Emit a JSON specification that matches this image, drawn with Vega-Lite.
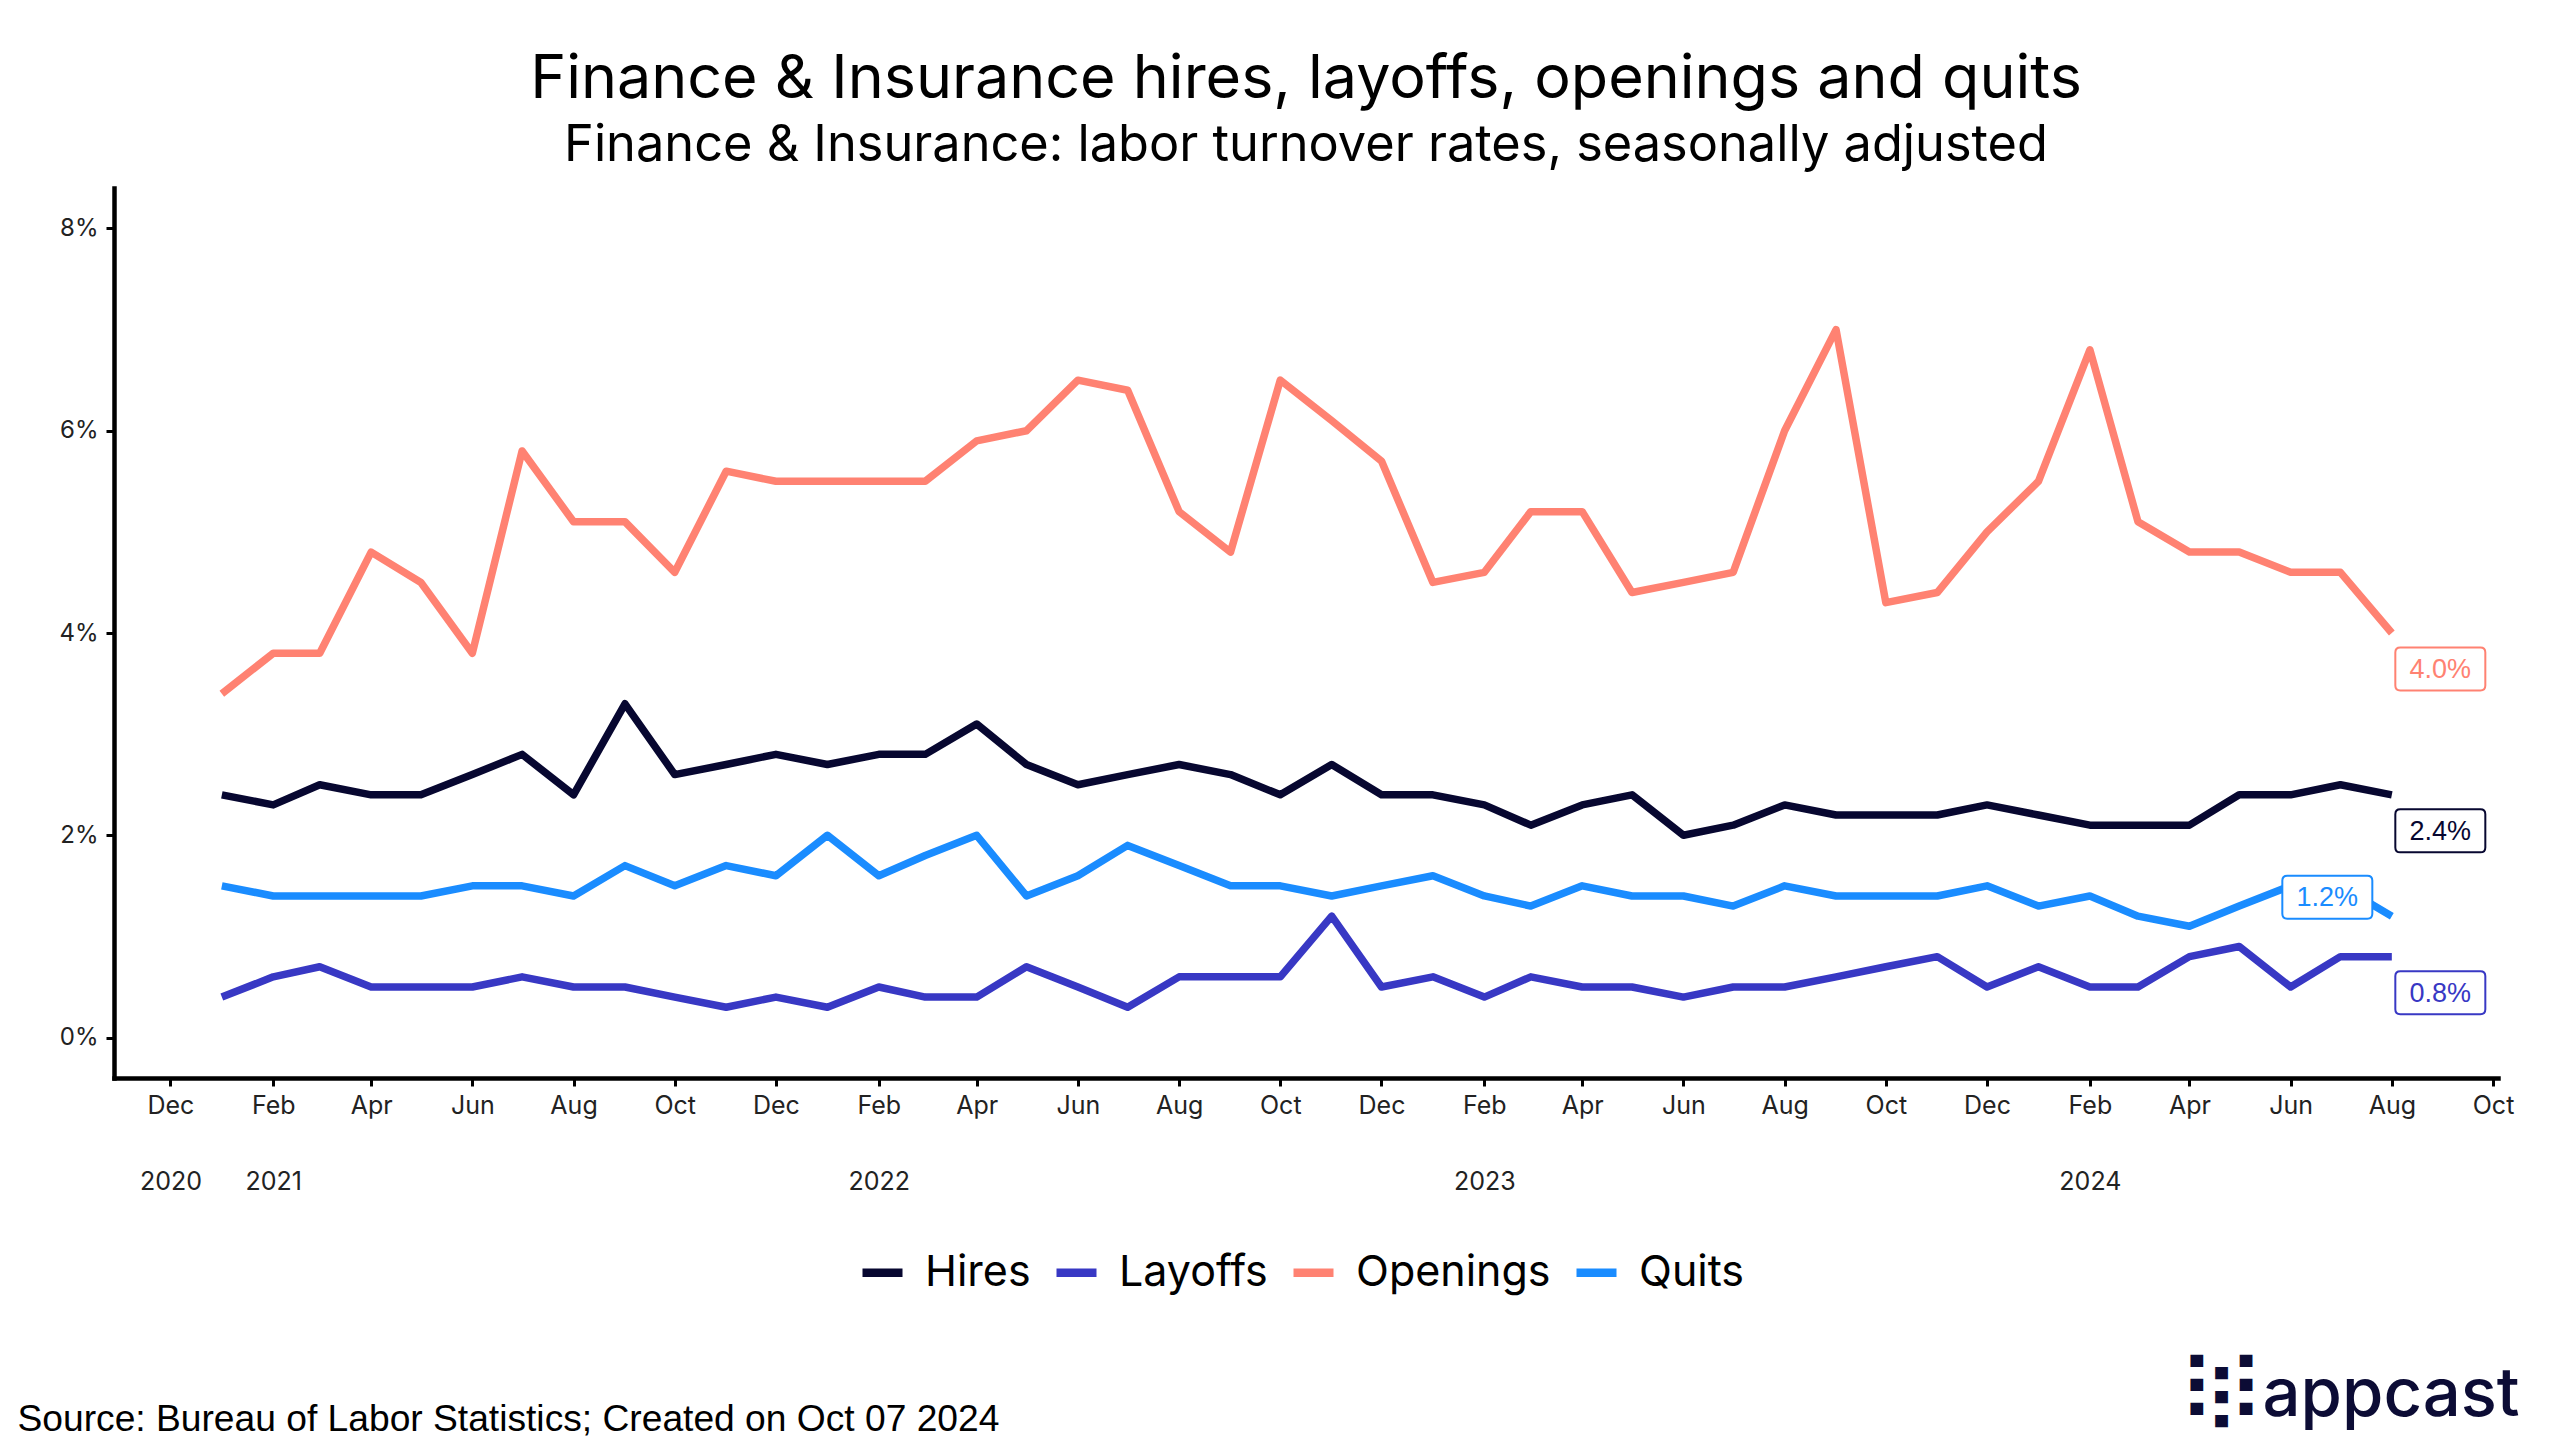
{
  "$schema": "https://vega.github.io/schema/vega-lite/v6.json",
  "width": 2384,
  "height": 890,
  "autosize": "none",
  "padding": {"left": 114, "top": 188, "right": 62, "bottom": 377},
  "background": "white",
  "config": {"view": {"stroke": null}, "font": "Inter"},
  "title": {
    "text": "Finance & Insurance hires, layoffs, openings and quits",
    "subtitle": "Finance & Insurance: labor turnover rates, seasonally adjusted",
    "anchor": "middle",
    "font": "Inter",
    "fontSize": 61,
    "fontWeight": "normal",
    "color": "black",
    "subtitleFont": "Inter",
    "subtitleFontSize": 50.5,
    "subtitleColor": "black",
    "subtitlePadding": 10,
    "offset": 16
  },
  "datasets": {
    "jolts": [
      {"date":"2021-01-01","series":"Hires","value":2.4},{"date":"2021-02-01","series":"Hires","value":2.3},{"date":"2021-03-01","series":"Hires","value":2.5},{"date":"2021-04-01","series":"Hires","value":2.4},{"date":"2021-05-01","series":"Hires","value":2.4},{"date":"2021-06-01","series":"Hires","value":2.6},{"date":"2021-07-01","series":"Hires","value":2.8},{"date":"2021-08-01","series":"Hires","value":2.4},{"date":"2021-09-01","series":"Hires","value":3.3},{"date":"2021-10-01","series":"Hires","value":2.6},{"date":"2021-11-01","series":"Hires","value":2.7},{"date":"2021-12-01","series":"Hires","value":2.8},
      {"date":"2022-01-01","series":"Hires","value":2.7},{"date":"2022-02-01","series":"Hires","value":2.8},{"date":"2022-03-01","series":"Hires","value":2.8},{"date":"2022-04-01","series":"Hires","value":3.1},{"date":"2022-05-01","series":"Hires","value":2.7},{"date":"2022-06-01","series":"Hires","value":2.5},{"date":"2022-07-01","series":"Hires","value":2.6},{"date":"2022-08-01","series":"Hires","value":2.7},{"date":"2022-09-01","series":"Hires","value":2.6},{"date":"2022-10-01","series":"Hires","value":2.4},{"date":"2022-11-01","series":"Hires","value":2.7},{"date":"2022-12-01","series":"Hires","value":2.4},
      {"date":"2023-01-01","series":"Hires","value":2.4},{"date":"2023-02-01","series":"Hires","value":2.3},{"date":"2023-03-01","series":"Hires","value":2.1},{"date":"2023-04-01","series":"Hires","value":2.3},{"date":"2023-05-01","series":"Hires","value":2.4},{"date":"2023-06-01","series":"Hires","value":2.0},{"date":"2023-07-01","series":"Hires","value":2.1},{"date":"2023-08-01","series":"Hires","value":2.3},{"date":"2023-09-01","series":"Hires","value":2.2},{"date":"2023-10-01","series":"Hires","value":2.2},{"date":"2023-11-01","series":"Hires","value":2.2},{"date":"2023-12-01","series":"Hires","value":2.3},
      {"date":"2024-01-01","series":"Hires","value":2.2},{"date":"2024-02-01","series":"Hires","value":2.1},{"date":"2024-03-01","series":"Hires","value":2.1},{"date":"2024-04-01","series":"Hires","value":2.1},{"date":"2024-05-01","series":"Hires","value":2.4},{"date":"2024-06-01","series":"Hires","value":2.4},{"date":"2024-07-01","series":"Hires","value":2.5},{"date":"2024-08-01","series":"Hires","value":2.4},
      {"date":"2021-01-01","series":"Layoffs","value":0.4},{"date":"2021-02-01","series":"Layoffs","value":0.6},{"date":"2021-03-01","series":"Layoffs","value":0.7},{"date":"2021-04-01","series":"Layoffs","value":0.5},{"date":"2021-05-01","series":"Layoffs","value":0.5},{"date":"2021-06-01","series":"Layoffs","value":0.5},{"date":"2021-07-01","series":"Layoffs","value":0.6},{"date":"2021-08-01","series":"Layoffs","value":0.5},{"date":"2021-09-01","series":"Layoffs","value":0.5},{"date":"2021-10-01","series":"Layoffs","value":0.4},{"date":"2021-11-01","series":"Layoffs","value":0.3},{"date":"2021-12-01","series":"Layoffs","value":0.4},
      {"date":"2022-01-01","series":"Layoffs","value":0.3},{"date":"2022-02-01","series":"Layoffs","value":0.5},{"date":"2022-03-01","series":"Layoffs","value":0.4},{"date":"2022-04-01","series":"Layoffs","value":0.4},{"date":"2022-05-01","series":"Layoffs","value":0.7},{"date":"2022-06-01","series":"Layoffs","value":0.5},{"date":"2022-07-01","series":"Layoffs","value":0.3},{"date":"2022-08-01","series":"Layoffs","value":0.6},{"date":"2022-09-01","series":"Layoffs","value":0.6},{"date":"2022-10-01","series":"Layoffs","value":0.6},{"date":"2022-11-01","series":"Layoffs","value":1.2},{"date":"2022-12-01","series":"Layoffs","value":0.5},
      {"date":"2023-01-01","series":"Layoffs","value":0.6},{"date":"2023-02-01","series":"Layoffs","value":0.4},{"date":"2023-03-01","series":"Layoffs","value":0.6},{"date":"2023-04-01","series":"Layoffs","value":0.5},{"date":"2023-05-01","series":"Layoffs","value":0.5},{"date":"2023-06-01","series":"Layoffs","value":0.4},{"date":"2023-07-01","series":"Layoffs","value":0.5},{"date":"2023-08-01","series":"Layoffs","value":0.5},{"date":"2023-09-01","series":"Layoffs","value":0.6},{"date":"2023-10-01","series":"Layoffs","value":0.7},{"date":"2023-11-01","series":"Layoffs","value":0.8},{"date":"2023-12-01","series":"Layoffs","value":0.5},
      {"date":"2024-01-01","series":"Layoffs","value":0.7},{"date":"2024-02-01","series":"Layoffs","value":0.5},{"date":"2024-03-01","series":"Layoffs","value":0.5},{"date":"2024-04-01","series":"Layoffs","value":0.8},{"date":"2024-05-01","series":"Layoffs","value":0.9},{"date":"2024-06-01","series":"Layoffs","value":0.5},{"date":"2024-07-01","series":"Layoffs","value":0.8},{"date":"2024-08-01","series":"Layoffs","value":0.8},
      {"date":"2021-01-01","series":"Openings","value":3.4},{"date":"2021-02-01","series":"Openings","value":3.8},{"date":"2021-03-01","series":"Openings","value":3.8},{"date":"2021-04-01","series":"Openings","value":4.8},{"date":"2021-05-01","series":"Openings","value":4.5},{"date":"2021-06-01","series":"Openings","value":3.8},{"date":"2021-07-01","series":"Openings","value":5.8},{"date":"2021-08-01","series":"Openings","value":5.1},{"date":"2021-09-01","series":"Openings","value":5.1},{"date":"2021-10-01","series":"Openings","value":4.6},{"date":"2021-11-01","series":"Openings","value":5.6},{"date":"2021-12-01","series":"Openings","value":5.5},
      {"date":"2022-01-01","series":"Openings","value":5.5},{"date":"2022-02-01","series":"Openings","value":5.5},{"date":"2022-03-01","series":"Openings","value":5.5},{"date":"2022-04-01","series":"Openings","value":5.9},{"date":"2022-05-01","series":"Openings","value":6.0},{"date":"2022-06-01","series":"Openings","value":6.5},{"date":"2022-07-01","series":"Openings","value":6.4},{"date":"2022-08-01","series":"Openings","value":5.2},{"date":"2022-09-01","series":"Openings","value":4.8},{"date":"2022-10-01","series":"Openings","value":6.5},{"date":"2022-11-01","series":"Openings","value":6.1},{"date":"2022-12-01","series":"Openings","value":5.7},
      {"date":"2023-01-01","series":"Openings","value":4.5},{"date":"2023-02-01","series":"Openings","value":4.6},{"date":"2023-03-01","series":"Openings","value":5.2},{"date":"2023-04-01","series":"Openings","value":5.2},{"date":"2023-05-01","series":"Openings","value":4.4},{"date":"2023-06-01","series":"Openings","value":4.5},{"date":"2023-07-01","series":"Openings","value":4.6},{"date":"2023-08-01","series":"Openings","value":6.0},{"date":"2023-09-01","series":"Openings","value":7.0},{"date":"2023-10-01","series":"Openings","value":4.3},{"date":"2023-11-01","series":"Openings","value":4.4},{"date":"2023-12-01","series":"Openings","value":5.0},
      {"date":"2024-01-01","series":"Openings","value":5.5},{"date":"2024-02-01","series":"Openings","value":6.8},{"date":"2024-03-01","series":"Openings","value":5.1},{"date":"2024-04-01","series":"Openings","value":4.8},{"date":"2024-05-01","series":"Openings","value":4.8},{"date":"2024-06-01","series":"Openings","value":4.6},{"date":"2024-07-01","series":"Openings","value":4.6},{"date":"2024-08-01","series":"Openings","value":4.0},
      {"date":"2021-01-01","series":"Quits","value":1.5},{"date":"2021-02-01","series":"Quits","value":1.4},{"date":"2021-03-01","series":"Quits","value":1.4},{"date":"2021-04-01","series":"Quits","value":1.4},{"date":"2021-05-01","series":"Quits","value":1.4},{"date":"2021-06-01","series":"Quits","value":1.5},{"date":"2021-07-01","series":"Quits","value":1.5},{"date":"2021-08-01","series":"Quits","value":1.4},{"date":"2021-09-01","series":"Quits","value":1.7},{"date":"2021-10-01","series":"Quits","value":1.5},{"date":"2021-11-01","series":"Quits","value":1.7},{"date":"2021-12-01","series":"Quits","value":1.6},
      {"date":"2022-01-01","series":"Quits","value":2.0},{"date":"2022-02-01","series":"Quits","value":1.6},{"date":"2022-03-01","series":"Quits","value":1.8},{"date":"2022-04-01","series":"Quits","value":2.0},{"date":"2022-05-01","series":"Quits","value":1.4},{"date":"2022-06-01","series":"Quits","value":1.6},{"date":"2022-07-01","series":"Quits","value":1.9},{"date":"2022-08-01","series":"Quits","value":1.7},{"date":"2022-09-01","series":"Quits","value":1.5},{"date":"2022-10-01","series":"Quits","value":1.5},{"date":"2022-11-01","series":"Quits","value":1.4},{"date":"2022-12-01","series":"Quits","value":1.5},
      {"date":"2023-01-01","series":"Quits","value":1.6},{"date":"2023-02-01","series":"Quits","value":1.4},{"date":"2023-03-01","series":"Quits","value":1.3},{"date":"2023-04-01","series":"Quits","value":1.5},{"date":"2023-05-01","series":"Quits","value":1.4},{"date":"2023-06-01","series":"Quits","value":1.4},{"date":"2023-07-01","series":"Quits","value":1.3},{"date":"2023-08-01","series":"Quits","value":1.5},{"date":"2023-09-01","series":"Quits","value":1.4},{"date":"2023-10-01","series":"Quits","value":1.4},{"date":"2023-11-01","series":"Quits","value":1.4},{"date":"2023-12-01","series":"Quits","value":1.5},
      {"date":"2024-01-01","series":"Quits","value":1.3},{"date":"2024-02-01","series":"Quits","value":1.4},{"date":"2024-03-01","series":"Quits","value":1.2},{"date":"2024-04-01","series":"Quits","value":1.1},{"date":"2024-05-01","series":"Quits","value":1.3},{"date":"2024-06-01","series":"Quits","value":1.5},{"date":"2024-07-01","series":"Quits","value":1.5},{"date":"2024-08-01","series":"Quits","value":1.2}
    ]
  },
  "layer": [
    {
      "data": {"name": "jolts"},
      "encoding": {
        "x": {
          "field": "date",
          "type": "temporal",
          "scale": {"type": "utc", "domain": [{"year": 2020, "month": 10, "date": 28, "utc": true}, {"year": 2024, "month": 10, "date": 4, "utc": true}]},
          "axis": {
            "values": [
              {"year": 2020, "month": 12, "date": 1, "utc": true},
              {"year": 2021, "month": 2, "date": 1, "utc": true}, {"year": 2021, "month": 4, "date": 1, "utc": true}, {"year": 2021, "month": 6, "date": 1, "utc": true}, {"year": 2021, "month": 8, "date": 1, "utc": true}, {"year": 2021, "month": 10, "date": 1, "utc": true}, {"year": 2021, "month": 12, "date": 1, "utc": true},
              {"year": 2022, "month": 2, "date": 1, "utc": true}, {"year": 2022, "month": 4, "date": 1, "utc": true}, {"year": 2022, "month": 6, "date": 1, "utc": true}, {"year": 2022, "month": 8, "date": 1, "utc": true}, {"year": 2022, "month": 10, "date": 1, "utc": true}, {"year": 2022, "month": 12, "date": 1, "utc": true},
              {"year": 2023, "month": 2, "date": 1, "utc": true}, {"year": 2023, "month": 4, "date": 1, "utc": true}, {"year": 2023, "month": 6, "date": 1, "utc": true}, {"year": 2023, "month": 8, "date": 1, "utc": true}, {"year": 2023, "month": 10, "date": 1, "utc": true}, {"year": 2023, "month": 12, "date": 1, "utc": true},
              {"year": 2024, "month": 2, "date": 1, "utc": true}, {"year": 2024, "month": 4, "date": 1, "utc": true}, {"year": 2024, "month": 6, "date": 1, "utc": true}, {"year": 2024, "month": 8, "date": 1, "utc": true}, {"year": 2024, "month": 10, "date": 1, "utc": true}
            ],
            "labelExpr": "[utcFormat(datum.value, '%b'), (utcmonth(datum.value) == 1 || utcyear(datum.value) == 2020) ? utcFormat(datum.value, '%Y') : '']",
            "labelFont": "Inter",
            "labelFontSize": 25,
            "labelColor": "#222222",
            "labelBaseline": "top",
            "labelLineHeight": 76,
            "labelPadding": 7,
            "labelOverlap": false,
            "labelFlush": false,
            "grid": false,
            "domainColor": "black",
            "domainWidth": 4.5,
            "domainCap": "square",
            "tickColor": "black",
            "tickWidth": 3,
            "tickSize": 8,
            "title": "Source: Bureau of Labor Statistics; Created on Oct 07 2024",
            "titleFont": "Liberation Sans",
            "titleFontSize": 37.2,
            "titleFontWeight": "normal",
            "titleColor": "black",
            "titleAlign": "left",
            "titleAnchor": "start",
            "titleBaseline": "alphabetic",
            "titleX": -97,
            "titleY": 352
          }
        },
        "y": {
          "field": "value",
          "type": "quantitative",
          "scale": {"domain": [-0.4, 8.4], "nice": false, "zero": false},
          "axis": {
            "values": [0, 2, 4, 6, 8],
            "labelExpr": "datum.value + '%'",
            "labelFont": "Inter",
            "labelFontSize": 24,
            "labelColor": "#222222",
            "labelPadding": 8,
            "grid": false,
            "domainColor": "black",
            "domainWidth": 4.5,
            "domainCap": "square",
            "tickColor": "black",
            "tickWidth": 3,
            "tickSize": 8,
            "title": "appcast",
            "titleFont": "Inter",
            "titleFontSize": 67,
            "titleFontWeight": 500,
            "titleColor": "#0c0c35",
            "titleAngle": 0,
            "titleAlign": "left",
            "titleBaseline": "alphabetic",
            "titleX": 2148,
            "titleY": 1227
          }
        }
      },
      "layer": [
        {
          "mark": {"type": "line", "strokeWidth": 7.5, "strokeCap": "butt", "strokeJoin": "round"},
          "encoding": {
            "color": {
              "field": "series",
              "type": "nominal",
              "scale": {"domain": ["Hires", "Layoffs", "Openings", "Quits"], "range": ["#070730", "#3838c4", "#ff8272", "#1a8cff"]},
              "legend": {
                "orient": "none",
                "legendX": 744,
                "legendY": 1060,
                "direction": "horizontal",
                "title": null,
                "symbolType": "stroke",
                "symbolStrokeWidth": 8.5,
                "symbolSize": 1600,
                "labelFont": "Inter",
                "labelFontSize": 43,
                "labelColor": "black",
                "labelLimit": 600,
                "labelOffset": 18,
                "columnPadding": 8,
                "padding": 0
              }
            }
          }
        },
        {
          "transform": [{"filter": {"field": "date", "timeUnit": "utcyearmonth", "equal": {"year": 2024, "month": 8, "utc": true}}}, {"filter": "datum.series != 'Quits'"}],
          "mark": {"type": "point", "shape": "M-0.89,-0.478 L0.89,-0.478 Q1,-0.478 1,-0.368 L1,0.368 Q1,0.478 0.89,0.478 L-0.89,0.478 Q-1,0.478 -1,0.368 L-1,-0.368 Q-1,-0.478 -0.89,-0.478 Z", "size": 8100, "filled": true, "fill": "white", "fillOpacity": 1, "opacity": 1, "strokeWidth": 2, "strokeOpacity": 1, "xOffset": 48.5, "yOffset": 36},
          "encoding": {
            "stroke": {"field": "series", "type": "nominal", "scale": {"domain": ["Hires", "Layoffs", "Openings", "Quits"], "range": ["#070730", "#3838c4", "#ff8272", "#1a8cff"]}, "legend": null}
          }
        },
        {
          "transform": [{"filter": {"field": "date", "timeUnit": "utcyearmonth", "equal": {"year": 2024, "month": 8, "utc": true}}}, {"filter": "datum.series == 'Quits'"}],
          "mark": {"type": "point", "shape": "M-0.89,-0.478 L0.89,-0.478 Q1,-0.478 1,-0.368 L1,0.368 Q1,0.478 0.89,0.478 L-0.89,0.478 Q-1,0.478 -1,0.368 L-1,-0.368 Q-1,-0.478 -0.89,-0.478 Z", "size": 8100, "filled": true, "fill": "white", "fillOpacity": 1, "opacity": 1, "strokeWidth": 2, "strokeOpacity": 1, "xOffset": -64.5, "yOffset": -19},
          "encoding": {
            "stroke": {"field": "series", "type": "nominal", "scale": {"domain": ["Hires", "Layoffs", "Openings", "Quits"], "range": ["#070730", "#3838c4", "#ff8272", "#1a8cff"]}, "legend": null}
          }
        },
        {
          "transform": [{"filter": {"field": "date", "timeUnit": "utcyearmonth", "equal": {"year": 2024, "month": 8, "utc": true}}}, {"filter": "datum.series != 'Quits'"}, {"calculate": "format(datum.value, '.1f') + '%'", "as": "label"}],
          "mark": {"type": "text", "font": "Liberation Sans", "fontSize": 27, "align": "center", "baseline": "middle", "dx": 48.5, "dy": 37},
          "encoding": {
            "text": {"field": "label"},
            "fill": {"field": "series", "type": "nominal", "scale": {"domain": ["Hires", "Layoffs", "Openings", "Quits"], "range": ["#070730", "#3838c4", "#ff8272", "#1a8cff"]}, "legend": null}
          }
        },
        {
          "transform": [{"filter": {"field": "date", "timeUnit": "utcyearmonth", "equal": {"year": 2024, "month": 8, "utc": true}}}, {"filter": "datum.series == 'Quits'"}, {"calculate": "format(datum.value, '.1f') + '%'", "as": "label"}],
          "mark": {"type": "text", "font": "Liberation Sans", "fontSize": 27, "align": "center", "baseline": "middle", "dx": -64.5, "dy": -18},
          "encoding": {
            "text": {"field": "label"},
            "fill": {"field": "series", "type": "nominal", "scale": {"domain": ["Hires", "Layoffs", "Openings", "Quits"], "range": ["#070730", "#3838c4", "#ff8272", "#1a8cff"]}, "legend": null}
          }
        }
      ]
    },
    {
      "data": {"values": [{"k": 0}]},
      "mark": {"type": "rule", "opacity": 0},
      "encoding": {
        "y": {
          "datum": 0,
          "type": "quantitative",
          "scale": {"domain": [0, 1]},
          "axis": {
            "orient": "right",
            "domain": false,
            "ticks": false,
            "labels": false,
            "grid": false,
            "title": ["▀\u00a0▄\u00a0▀", "▀\u00a0▄\u00a0▀", "▀\u00a0▄\u00a0▀"],
            "titleFont": "DejaVu Sans Mono",
            "titleFontSize": 20.5,
            "titleFontWeight": "normal",
            "titleLineHeight": 24,
            "titleColor": "#0c0c35",
            "titleAngle": 0,
            "titleAlign": "left",
            "titleBaseline": "top",
            "titleX": -308,
            "titleY": 1169
          }
        }
      }
    }
  ],
  "resolve": {"scale": {"y": "independent"}}
}
